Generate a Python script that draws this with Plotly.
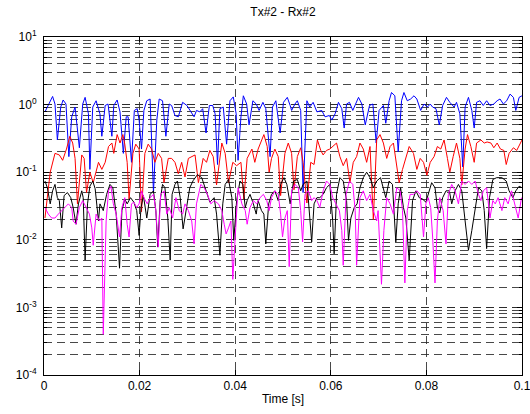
import plotly.graph_objects as go

# ---------------- data (time in s, amplitude) ----------------
blue_t = [0.0002,0.0018,0.0023,0.0028,0.0035,0.0040,0.0046,0.0052,0.0058,0.0065,0.0074,0.0081,0.0086,0.0093,0.0096,
          0.0102,0.0109,0.0117,0.0121,0.0128,0.0134,0.0142,0.0146,0.0153,0.0159,0.0166,0.0172,0.0176,0.0183,0.0189,
          0.0195,0.0199,0.0204,0.0209,0.0215,0.0222,0.0229,0.0236,0.0241,0.0248,0.0255,0.0262,0.0267,0.0274,0.0281,
          0.0290,0.0299,0.0305,0.0314,0.0319,0.0326,0.0332,0.0339,0.0346,0.0353,0.0358,0.0363,0.0368,0.0375,0.0382,
          0.0389,0.0396,0.0402,0.0406,0.0412,0.0417,0.0424,0.0429,0.0437,0.0444,0.0450,0.0458,0.0464,0.0473,0.0478,
          0.0485,0.0494,0.0501,0.0509,0.0515,0.0518,0.0525,0.0530,0.0537,0.0542,0.0550,0.0556,0.0563,0.0571,0.0581,
          0.0588,0.0597,0.0602,0.0609,0.0616,0.0623,0.0628,0.0633,0.0639,0.0646,0.0651,0.0658,0.0665,0.0672,0.0681,
          0.0688,0.0695,0.0701,0.0710,0.0715,0.0722,0.0727,0.0734,0.0741,0.0748,0.0753,0.0760,0.0767,0.0774,0.0780,
          0.0788,0.0795,0.0802,0.0808,0.0813,0.0820,0.0827,0.0834,0.0842,0.0849,0.0858,0.0863,0.0870,0.0876,0.0881,
          0.0888,0.0895,0.0900,0.0905,0.0912,0.0919,0.0926,0.0933,0.0941,0.0948,0.0954,0.0961,0.0968,0.0975,0.0982,
          0.0987,0.0994,0.1000]
blue_v = [0.78,1.32,1.02,0.30,0.92,1.17,1.02,0.17,0.66,0.92,0.23,1.02,1.28,0.73,0.11,
          0.92,1.14,0.73,0.34,0.97,1.02,0.34,0.97,1.17,0.78,0.19,0.66,0.66,0.14,0.82,
          0.87,0.59,0.22,0.82,1.14,1.21,0.05,0.59,1.21,1.14,0.34,1.02,0.97,0.69,0.66,
          1.08,0.97,0.82,0.66,0.82,0.78,0.87,0.38,0.97,0.97,0.73,0.13,0.87,0.92,0.26,
          1.14,1.30,0.73,0.15,0.66,1.35,1.02,0.50,1.14,1.02,0.82,1.08,0.87,0.17,0.92,
          1.14,0.38,1.08,1.28,0.97,0.82,1.02,1.14,0.82,0.05,1.14,0.92,1.08,0.78,0.82,
          0.66,0.69,0.59,0.73,1.08,0.87,0.45,1.02,1.08,0.82,0.97,1.28,1.02,0.50,0.97,
          1.02,0.27,0.82,0.97,0.53,1.14,1.51,1.35,0.20,1.14,1.51,1.14,1.21,1.35,1.21,
          0.82,1.02,0.92,1.02,0.92,0.87,0.50,0.97,1.28,1.08,0.92,1.08,0.73,0.12,0.92,
          1.28,0.82,0.45,1.08,1.14,0.97,1.14,0.97,1.02,1.14,1.21,1.02,1.14,1.43,1.28,
          0.82,1.28,1.35]

red_t = [0.0002,0.0013,0.0023,0.0032,0.0039,0.0047,0.0054,0.0060,0.0065,0.0070,0.0079,0.0084,0.0089,0.0096,0.0103,
         0.0114,0.0121,0.0128,0.0135,0.0142,0.0146,0.0153,0.0159,0.0165,0.0169,0.0174,0.0178,0.0186,0.0192,0.0199,
         0.0204,0.0211,0.0218,0.0225,0.0232,0.0239,0.0246,0.0251,0.0260,0.0267,0.0274,0.0281,0.0288,0.0295,0.0302,
         0.0316,0.0323,0.0333,0.0340,0.0347,0.0354,0.0361,0.0372,0.0379,0.0386,0.0395,0.0403,0.0412,0.0418,0.0425,
         0.0435,0.0441,0.0448,0.0455,0.0460,0.0467,0.0471,0.0476,0.0483,0.0490,0.0495,0.0504,0.0511,0.0518,0.0523,
         0.0530,0.0537,0.0542,0.0550,0.0558,0.0565,0.0572,0.0579,0.0584,0.0591,0.0598,0.0605,0.0612,0.0619,0.0626,
         0.0633,0.0640,0.0647,0.0654,0.0661,0.0668,0.0675,0.0682,0.0689,0.0696,0.0703,0.0710,0.0717,0.0724,0.0731,
         0.0738,0.0743,0.0750,0.0757,0.0764,0.0773,0.0780,0.0787,0.0794,0.0801,0.0808,0.0816,0.0823,0.0830,0.0837,
         0.0844,0.0849,0.0856,0.0863,0.0870,0.0874,0.0881,0.0886,0.0893,0.0900,0.0905,0.0914,0.0921,0.0927,0.0935,
         0.0941,0.0948,0.0955,0.0962,0.0967,0.0973,0.0982,0.0989,0.0997,0.1000]
red_v = [0.021,0.10,0.19,0.18,0.15,0.22,0.34,0.27,0.16,0.034,0.18,0.16,0.05,0.10,0.07,
         0.14,0.11,0.14,0.24,0.27,0.19,0.36,0.27,0.36,0.26,0.14,0.04,0.19,0.26,0.22,
         0.026,0.19,0.26,0.22,0.14,0.19,0.16,0.07,0.16,0.16,0.14,0.095,0.14,0.085,0.16,
         0.18,0.07,0.16,0.14,0.21,0.17,0.065,0.27,0.19,0.07,0.14,0.125,0.14,0.04,0.16,
         0.22,0.14,0.22,0.29,0.36,0.24,0.10,0.16,0.22,0.17,0.045,0.19,0.27,0.19,0.055,
         0.17,0.23,0.14,0.035,0.14,0.13,0.30,0.21,0.18,0.21,0.22,0.24,0.27,0.17,0.125,
         0.16,0.07,0.14,0.17,0.27,0.22,0.14,0.24,0.02,0.30,0.36,0.27,0.16,0.24,0.27,
         0.11,0.07,0.11,0.16,0.24,0.19,0.11,0.16,0.14,0.09,0.14,0.17,0.24,0.22,0.30,
         0.16,0.10,0.17,0.27,0.16,0.065,0.22,0.36,0.24,0.14,0.27,0.30,0.27,0.28,0.27,
         0.23,0.27,0.22,0.21,0.13,0.19,0.23,0.21,0.27,0.30]

black_t = [0.0002,0.0007,0.0013,0.0018,0.0023,0.0028,0.0032,0.0037,0.0042,0.0049,0.0056,0.0061,0.0067,0.0072,0.0079,
           0.0082,0.0086,0.0091,0.0096,0.0102,0.0107,0.0114,0.0117,0.0124,0.0131,0.0138,0.0144,0.0151,0.0158,0.0163,
           0.0169,0.0174,0.0181,0.0188,0.0194,0.0199,0.0203,0.0208,0.0215,0.0222,0.0229,0.0234,0.0238,0.0243,0.0248,
           0.0253,0.0259,0.0264,0.0268,0.0274,0.0279,0.0285,0.0291,0.0299,0.0305,0.0312,0.0321,0.0330,0.0337,0.0347,
           0.0356,0.0361,0.0368,0.0374,0.0379,0.0386,0.0393,0.0397,0.0403,0.0410,0.0416,0.0421,0.0425,0.0431,0.0438,
           0.0444,0.0448,0.0455,0.0460,0.0464,0.0470,0.0476,0.0483,0.0490,0.0495,0.0502,0.0508,0.0515,0.0522,0.0530,
           0.0537,0.0542,0.0550,0.0555,0.0560,0.0565,0.0571,0.0577,0.0584,0.0591,0.0598,0.0604,0.0607,0.0612,0.0619,
           0.0626,0.0633,0.0637,0.0642,0.0649,0.0655,0.0661,0.0668,0.0675,0.0682,0.0689,0.0696,0.0704,0.0710,0.0715,
           0.0722,0.0729,0.0736,0.0741,0.0746,0.0752,0.0757,0.0764,0.0771,0.0778,0.0785,0.0792,0.0799,0.0804,0.0811,
           0.0818,0.0823,0.0828,0.0834,0.0841,0.0848,0.0853,0.0860,0.0867,0.0874,0.0881,0.0888,0.0895,0.0902,0.0909,
           0.0916,0.0921,0.0926,0.0932,0.0939,0.0947,0.0958,0.0967,0.0973,0.0981,0.0987,0.0994,0.1000]
black_v = [0.074,0.059,0.034,0.053,0.066,0.042,0.038,0.015,0.045,0.050,0.042,0.030,0.017,0.034,0.053,
           0.042,0.005,0.034,0.062,0.074,0.057,0.019,0.034,0.027,0.047,0.066,0.059,0.024,0.0038,0.027,
           0.040,0.034,0.042,0.036,0.027,0.0116,0.030,0.045,0.021,0.047,0.053,0.027,0.0078,0.038,0.066,
           0.059,0.021,0.005,0.047,0.066,0.074,0.042,0.0145,0.034,0.059,0.075,0.092,0.083,0.059,0.036,
           0.042,0.024,0.0059,0.034,0.066,0.078,0.042,0.0098,0.038,0.074,0.066,0.030,0.038,0.047,0.034,
           0.024,0.038,0.027,0.024,0.0087,0.034,0.047,0.053,0.038,0.066,0.083,0.066,0.034,0.074,0.078,
           0.053,0.066,0.074,0.027,0.0093,0.034,0.042,0.042,0.047,0.059,0.066,0.019,0.0062,0.047,0.083,
           0.074,0.038,0.0098,0.021,0.030,0.034,0.059,0.083,0.10,0.083,0.059,0.074,0.083,0.059,0.042,
           0.074,0.066,0.0093,0.034,0.059,0.030,0.021,0.005,0.038,0.053,0.042,0.040,0.036,0.047,0.070,
           0.059,0.030,0.025,0.042,0.053,0.053,0.034,0.053,0.066,0.053,0.019,0.007,0.0137,0.027,0.059,
           0.053,0.027,0.0074,0.042,0.078,0.083,0.083,0.074,0.053,0.042,0.053,0.062,0.059]

mag_t = [0.0002,0.0009,0.0016,0.0023,0.0030,0.0037,0.0044,0.0051,0.0058,0.0061,0.0067,0.0074,0.0081,0.0088,0.0095,
         0.0100,0.0103,0.0109,0.0116,0.0121,0.0124,0.0130,0.0135,0.0140,0.0145,0.0151,0.0158,0.0163,0.0169,0.0174,
         0.0178,0.0183,0.0188,0.0194,0.0199,0.0204,0.0209,0.0216,0.0222,0.0229,0.0234,0.0239,0.0244,0.0251,0.0257,
         0.0262,0.0269,0.0276,0.0283,0.0290,0.0295,0.0302,0.0309,0.0314,0.0319,0.0325,0.0328,0.0335,0.0342,0.0349,
         0.0356,0.0365,0.0372,0.0377,0.0381,0.0386,0.0391,0.0395,0.0400,0.0406,0.0414,0.0421,0.0425,0.0431,0.0438,
         0.0445,0.0452,0.0459,0.0466,0.0471,0.0476,0.0483,0.0490,0.0495,0.0499,0.0504,0.0509,0.0513,0.0518,0.0525,
         0.0532,0.0537,0.0541,0.0546,0.0553,0.0560,0.0565,0.0571,0.0577,0.0584,0.0591,0.0598,0.0604,0.0611,0.0618,
         0.0623,0.0626,0.0632,0.0639,0.0646,0.0651,0.0654,0.0661,0.0668,0.0675,0.0682,0.0689,0.0696,0.0699,0.0706,
         0.0711,0.0717,0.0724,0.0731,0.0738,0.0745,0.0750,0.0755,0.0760,0.0766,0.0773,0.0780,0.0787,0.0794,0.0799,
         0.0804,0.0809,0.0813,0.0818,0.0823,0.0828,0.0835,0.0841,0.0846,0.0853,0.0860,0.0867,0.0874,0.0881,0.0888,
         0.0895,0.0902,0.0909,0.0914,0.0919,0.0926,0.0933,0.0939,0.0944,0.0950,0.0958,0.0964,0.0971,0.0978,0.0985,
         0.0992,0.0999]
mag_v = [0.030,0.024,0.021,0.021,0.024,0.027,0.030,0.034,0.030,0.019,0.017,0.030,0.038,0.030,0.024,
         0.015,0.0083,0.024,0.019,0.021,0.0004,0.019,0.053,0.062,0.034,0.024,0.011,0.030,0.042,0.017,
         0.011,0.034,0.036,0.030,0.034,0.053,0.042,0.034,0.042,0.047,0.027,0.0078,0.047,0.053,0.024,
         0.030,0.021,0.042,0.027,0.024,0.034,0.027,0.019,0.0087,0.034,0.053,0.066,0.059,0.047,0.034,
         0.038,0.034,0.027,0.017,0.0122,0.015,0.019,0.0026,0.011,0.059,0.034,0.027,0.017,0.030,0.038,
         0.034,0.042,0.047,0.038,0.027,0.042,0.053,0.047,0.024,0.011,0.021,0.027,0.004,0.053,0.066,
         0.059,0.027,0.0093,0.047,0.053,0.038,0.042,0.038,0.030,0.053,0.074,0.066,0.042,0.034,0.027,
         0.0137,0.0042,0.047,0.074,0.066,0.027,0.0042,0.042,0.053,0.038,0.047,0.027,0.019,0.027,0.0022,
         0.0137,0.042,0.034,0.024,0.059,0.053,0.027,0.0023,0.027,0.047,0.047,0.053,0.047,0.011,0.034,
         0.042,0.030,0.011,0.0023,0.019,0.042,0.027,0.0087,0.047,0.066,0.053,0.034,0.074,0.066,0.074,
         0.066,0.074,0.047,0.038,0.053,0.059,0.021,0.038,0.034,0.042,0.027,0.042,0.034,0.053,0.034,
         0.021,0.042]

x_ticks = [0, 0.02, 0.04, 0.06, 0.08, 0.1]
x_tick_labels = ["0", "0.02", "0.04", "0.06", "0.08", "0.1"]
y_ticks = [1e-4, 1e-3, 1e-2, 1e-1, 1e0, 1e1]
y_tick_labels = ["10<sup>-4</sup>", "10<sup>-3</sup>", "10<sup>-2</sup>",
                 "10<sup>-1</sup>", "10<sup>0</sup>", "10<sup>1</sup>"]
title_text = "Tx#2 - Rx#2"
x_title = "Time [s]"

# ---------------- figure ----------------
FONT = "Liberation Sans, Arial, Helvetica, sans-serif"
GRID = "rgba(40,40,40,0.85)"

fig = go.Figure()
for t, v, c in [(blue_t, blue_v, "#0000ff"), (red_t, red_v, "#ff0000"),
                (black_t, black_v, "#000000"), (mag_t, mag_v, "#ff00ff")]:
    fig.add_trace(go.Scatter(x=t, y=v, mode="lines", line=dict(color=c, width=1),
                             hoverinfo="skip", showlegend=False))

fig.update_layout(
    width=530, height=414,
    margin=dict(l=44, r=8, t=37, b=39),
    paper_bgcolor="white", plot_bgcolor="white",
    font=dict(family=FONT, size=12, color="black"),
    title=dict(text=title_text, x=0.534, xanchor="center", y=1 - 12 / 414,
               yanchor="middle", font=dict(size=12)),
    showlegend=False,
)

fig.update_xaxes(
    range=[0, 0.1], tickvals=x_ticks, ticktext=x_tick_labels, automargin=False,
    ticklabeloverflow="allow",
    showline=True, linecolor="black", linewidth=1, mirror="ticks",
    ticks="inside", ticklen=5, tickcolor="black",
    showgrid=True, gridcolor=GRID, gridwidth=1, griddash="8px,5px",
    zeroline=False,
    title=dict(text=x_title, standoff=2, font=dict(size=12)),
)
fig.update_yaxes(
    type="log", range=[-4, 1], tickvals=y_ticks, ticktext=y_tick_labels, automargin=False,
    ticklabeloverflow="allow",
    showline=True, linecolor="black", linewidth=1, mirror="ticks",
    ticks="inside", ticklen=5, tickcolor="black", ticklabelstandoff=4,
    showgrid=True, gridcolor=GRID, gridwidth=1, griddash="8px,5px",
    zeroline=False,
    minor=dict(dtick="D1", ticks="inside", ticklen=3, tickcolor="black",
               showgrid=True, gridcolor=GRID, gridwidth=1, griddash="8px,5px"),
)

fig.write_html("out.html", config={"displayModeBar": False},
               post_script="document.body.style.margin='0';document.body.style.overflow='hidden';")
